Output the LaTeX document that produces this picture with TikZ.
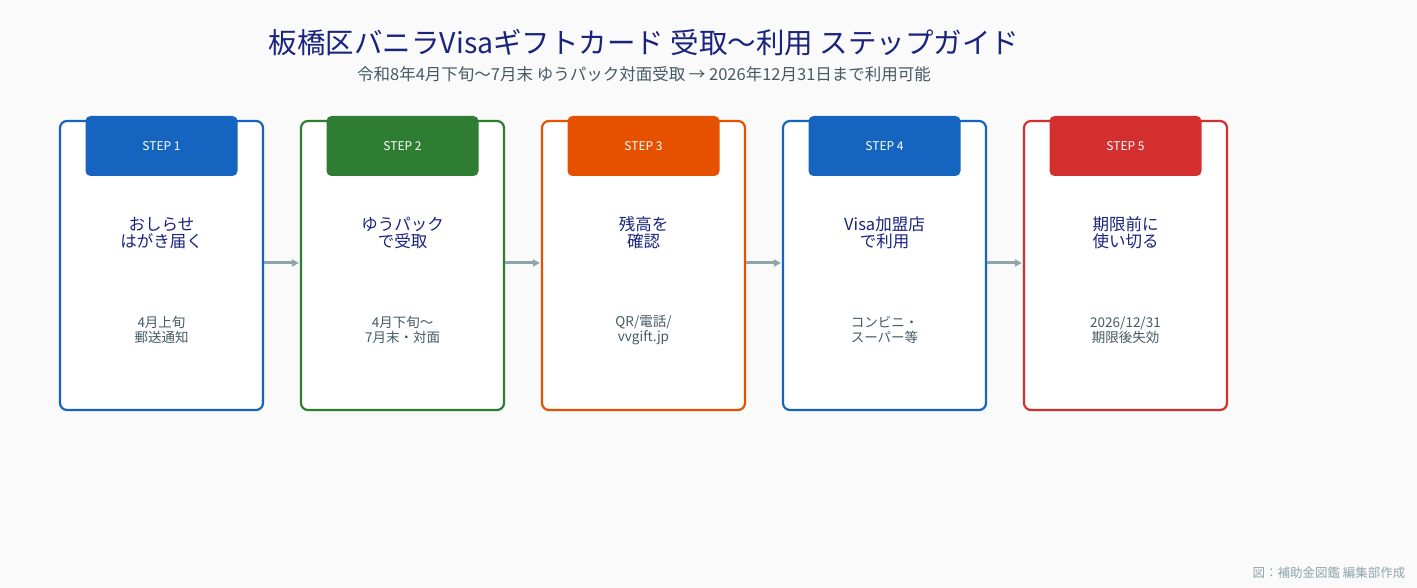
\documentclass[tikz,border=0pt]{standalone}
\usepackage{fontspec}
\setmainfont{Noto Sans CJK JP}
\setmonofont{DejaVu Sans Mono}
\usetikzlibrary{arrows.meta, positioning}
\definecolor{navy}{HTML}{1A237E}
\definecolor{slate}{HTML}{455A64}
\definecolor{arr}{HTML}{90A4AE}
\definecolor{bg}{HTML}{FAFAFA}
\definecolor{sblue}{HTML}{1565C0}
\definecolor{sgreen}{HTML}{2E7D32}
\definecolor{sorange}{HTML}{E65100}
\definecolor{sred}{HTML}{D32F2F}

\begin{document}
\begin{tikzpicture}[
            x = 1pt, y = -1pt,
            > = {Triangle[length=7pt, width=7pt]},
            card/.style = {draw = #1, line width = 2.2pt, fill = white, rounded corners = 7pt,
                           minimum width = 203pt, minimum height = 289pt, inner sep = 0pt},
            tab/.style = {fill = #1, rounded corners = 5pt, minimum width = 152pt,
                          minimum height = 60pt, inner sep = 0pt, text = white,
                          font = \fontsize{12}{14}\selectfont},
            head/.style = {text = navy, align = center, font = \fontsize{16.5}{17}\selectfont},
            note/.style = {text = slate, align = center, font = \fontsize{13.5}{15}\selectfont},
            link/.style = {->, draw = arr, fill = arr, line width = 3pt, shorten > = 1pt}
  ]
        \fill[bg] (0, 0) rectangle (1417, 588);
        \useasboundingbox (0, 0) rectangle (1417, 588);

        % heading
        \node[text = navy, font = \fontsize{28.5}{30}\selectfont] (title) at (644, 43) {板橋区バニラVisaギフトカード 受取〜利用 ステップガイド};
        \node[text = slate, font = \fontsize{16.5}{18}\selectfont] (sub) at (644, 74) {令和8年4月下旬〜7月末 ゆうパック対面受取 → 2026年12月31日まで利用可能};

        % step 1
        \node[card = sblue] (card1) at (161.5, 265.5) {};
        \node[tab = sblue] (tab1) at (161.5, 146) {STEP 1};
        \node[head] (head1) at (161.5, 233) {おしらせ\\はがき届く};
        \node[note] (note1) at (161.5, 330) {4月上旬\\郵送通知};

        % step 2
        \node[card = sgreen] (card2) at (402.5, 265.5) {};
        \node[tab = sgreen] (tab2) at (402.5, 146) {STEP 2};
        \node[head] (head2) at (402.5, 233) {ゆうパック\\で受取};
        \node[note] (note2) at (402.5, 330) {4月下旬〜\\7月末・対面};

        % step 3
        \node[card = sorange] (card3) at (643.5, 265.5) {};
        \node[tab = sorange] (tab3) at (643.5, 146) {STEP 3};
        \node[head] (head3) at (643.5, 233) {残高を\\確認};
        \node[note] (note3) at (643.5, 330) {QR/電話/\\vvgift.jp};

        % step 4
        \node[card = sblue] (card4) at (884.5, 265.5) {};
        \node[tab = sblue] (tab4) at (884.5, 146) {STEP 4};
        \node[head] (head4) at (884.5, 233) {Visa加盟店\\で利用};
        \node[note] (note4) at (884.5, 330) {コンビニ・\\スーパー等};

        % step 5
        \node[card = sred] (card5) at (1125.5, 265.5) {};
        \node[tab = sred] (tab5) at (1125.5, 146) {STEP 5};
        \node[head] (head5) at (1125.5, 233) {期限前に\\使い切る};
        \node[note] (note5) at (1125.5, 330) {2026/12/31\\期限後失効};

        \draw[link] ([yshift=2.5pt]card1.east) -- ([yshift=2.5pt]card2.west);
        \draw[link] ([yshift=2.5pt]card2.east) -- ([yshift=2.5pt]card3.west);
        \draw[link] ([yshift=2.5pt]card3.east) -- ([yshift=2.5pt]card4.west);
        \draw[link] ([yshift=2.5pt]card4.east) -- ([yshift=2.5pt]card5.west);

        \node[text = arr, anchor = east, font = \fontsize{12.5}{14}\selectfont] (credit) at (1409, 573) {図：補助金図鑑 編集部作成};
\end{tikzpicture}
\end{document}
